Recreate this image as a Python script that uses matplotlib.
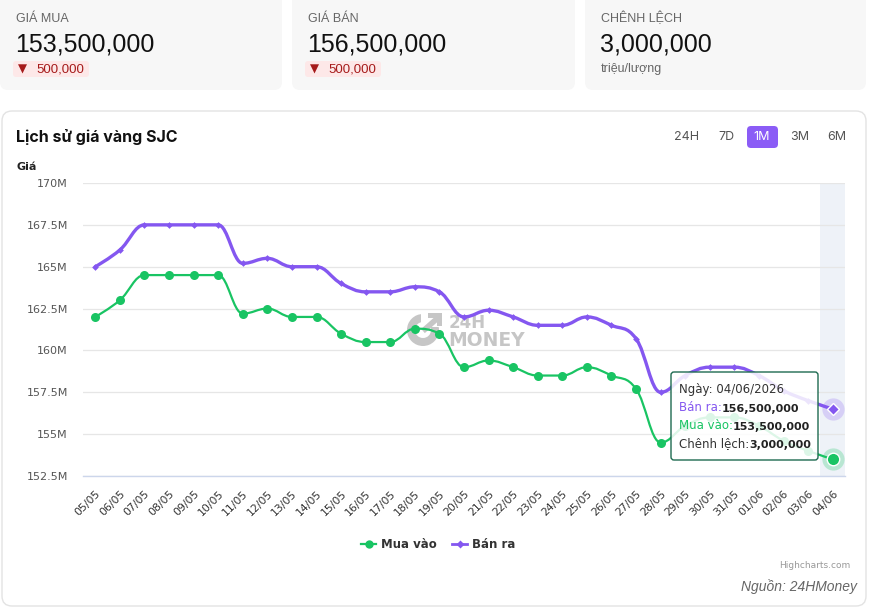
import matplotlib
matplotlib.use("Agg")
import matplotlib.pyplot as plt
from matplotlib.path import Path
from matplotlib.patches import PathPatch, FancyBboxPatch, Rectangle, Circle, Wedge
import numpy as np

# ---------------- data ----------------
dates = ['05/05', '06/05', '07/05', '08/05', '09/05', '10/05', '11/05', '12/05', '13/05',
         '14/05', '15/05', '16/05', '17/05', '18/05', '19/05', '20/05', '21/05', '22/05',
         '23/05', '24/05', '25/05', '26/05', '27/05', '28/05', '29/05', '30/05', '31/05',
         '01/06', '02/06', '03/06', '04/06']
ban_ra = [165.0, 166.0, 167.5, 167.5, 167.5, 167.5, 165.2, 165.5, 165.0, 165.0, 164.0,
          163.5, 163.5, 163.8, 163.5, 162.0, 162.4, 162.0, 161.5, 161.5, 162.0, 161.5,
          160.7, 157.5, 158.5, 159.0, 159.0, 158.5, 157.6, 157.0, 156.5]
mua_vao = [162.0, 163.0, 164.5, 164.5, 164.5, 164.5, 162.2, 162.5, 162.0, 162.0, 161.0,
           160.5, 160.5, 161.3, 161.0, 159.0, 159.4, 159.0, 158.5, 158.5, 159.0, 158.5,
           157.7, 154.5, 155.5, 156.0, 156.0, 155.5, 154.6, 154.0, 153.5]
y_ticks = [152.5, 155, 157.5, 160, 162.5, 165, 167.5, 170]
y_tick_labels = ['152.5M', '155M', '157.5M', '160M', '162.5M', '165M', '167.5M', '170M']
series_names = ['Mua vào', 'Bán ra']
range_buttons = ['24H', '7D', '1M', '3M', '6M']

PURPLE = '#8457f0'
GREEN = '#19c463'
W, H = 871, 611

fig = plt.figure(figsize=(W / 100, H / 100), dpi=100)
fig.patch.set_facecolor('white')

# background pixel axes
bg = fig.add_axes([0, 0, 1, 1], zorder=0)
bg.set_xlim(0, W); bg.set_ylim(H, 0); bg.axis('off')

def rbox(ax, x0, y0, x1, y1, r, fc, ec='none', lw=0, z=1):
    p = FancyBboxPatch((x0 + r, y0 + r), (x1 - x0) - 2 * r, (y1 - y0) - 2 * r,
                       boxstyle=f"round,pad={r}", fc=fc, ec=ec, lw=lw, zorder=z)
    ax.add_patch(p)
    return p

HF = 'Liberation Sans'
# cards
cards = [(0, 282, 'GIÁ MUA', '153,500,000', '500,000'),
         (292, 575, 'GIÁ BÁN', '156,500,000', '500,000'),
         (585, 866, 'CHÊNH LỆCH', '3,000,000', None)]
for x0, x1, lab, val, chg in cards:
    rbox(bg, x0, -10, x1, 90, 8, '#f7f7f7')
    bg.text(x0 + 16, 18.5, lab, fontsize=9, color='#666666', family=HF, va='center')
    bg.text(x0 + 15, 44.5, val, fontsize=18, color='#111111', family=HF, va='center')
    if chg:
        rbox(bg, x0 + 13, 61, x0 + 89, 77, 3, '#fde8e8')
        bg.text(x0 + 18, 69.5, '▼', fontsize=8.5, color='#a61b1b', family='DejaVu Sans', va='center')
        bg.text(x0 + 36, 69.5, chg, fontsize=9.5, color='#a61b1b', family=HF, va='center')
    else:
        bg.text(x0 + 16, 69, 'triệu/lượng', fontsize=9, color='#666666', family=HF, va='center')

# chart container
rbox(bg, 2, 111, 866, 606, 10, 'white', ec='#e3e3e3', lw=1)
bg.text(16, 137, 'Lịch sử giá vàng SJC', fontsize=11.5, fontweight='bold', color='#111111',
        family='Inter', va='center')
btn_x = [687, 726, 762, 800, 837]
for bx, bt in zip(btn_x, range_buttons):
    if bt == '1M':
        rbox(bg, 747, 126, 778, 148, 4, '#8b5cf6')
        bg.text(bx, 137, bt, fontsize=9, color='white', family='Inter', ha='center', va='center')
    else:
        bg.text(bx, 137, bt, fontsize=9, color='#555555', family='Inter', ha='center', va='center')
bg.text(16, 167, 'Giá', fontsize=8, fontweight='bold', color='#222222', family='DejaVu Sans', va='center')

# watermark logo
WM = '#c6c6c6'
bg.add_patch(Wedge((423, 330), 16, 0, 360, width=8, fc=WM, ec='none', zorder=2))
bg.add_patch(Rectangle((421, 313), 22, 14, fc='white', ec='none', zorder=2.1))
bg.plot([423, 440], [331, 316], color=WM, lw=4, zorder=2.2, solid_capstyle='butt')
bg.add_patch(Rectangle((428, 313), 14, 5, fc=WM, ec='none', zorder=2.2))
bg.add_patch(Rectangle((437, 313), 5, 13, fc=WM, ec='none', zorder=2.2))
bg.text(449, 323, '24H', fontsize=12, fontweight='bold', color=WM, family='DejaVu Sans',
        va='center', zorder=2)
bg.text(448, 341, 'MONEY', fontsize=13.5, fontweight='bold', color=WM, family='DejaVu Sans',
        va='center', zorder=2)

# credits
bg.text(815, 566, 'Highcharts.com', fontsize=6.5, color='#999999', family='DejaVu Sans',
        ha='center', va='center')
bg.text(857, 587, 'Nguồn: 24HMoney', fontsize=10, color='#666666', style='italic', family=HF,
        ha='right', va='center')

# ---------------- chart axes ----------------
L, R, T, B = 83, 845, 183, 476
ax = fig.add_axes([L / W, 1 - B / H, (R - L) / W, (B - T) / H], zorder=1)
ax.patch.set_alpha(0)
n = len(dates)
xs = np.arange(n)
ax.set_xlim(-0.5, n - 0.5)
ax.set_ylim(152.5, 170)
for s in ['top', 'right', 'left']:
    ax.spines[s].set_visible(False)
ax.spines['bottom'].set_color('#ccd6eb')
ax.spines['bottom'].set_linewidth(1)
ax.set_yticks(y_ticks)
ax.set_yticklabels(y_tick_labels, fontsize=8, color='#555555', family='DejaVu Sans')
ax.tick_params(axis='y', length=0, pad=11)
ax.set_xticks(xs)
ax.set_xticklabels(dates, rotation=45, ha='right', va='top', fontsize=7.8, color='#333333',
                   family='DejaVu Sans', rotation_mode='anchor')
ax.tick_params(axis='x', length=0, pad=9)
ax.grid(axis='y', color='#e6e6e6', lw=0.9, zorder=0)
ax.set_axisbelow(True)
ax.axvspan(n - 1.5, n - 0.5, color='#eef2f8', zorder=0.5, lw=0)

def spline_path(xv, yv, smoothing=1.5):
    denom = smoothing + 1
    N = len(xv)
    lc = [(xv[i], yv[i]) for i in range(N)]
    rc = [(xv[i], yv[i]) for i in range(N)]
    for i in range(1, N - 1):
        px, py = xv[i], yv[i]
        lx, ly = xv[i - 1], yv[i - 1]
        nx, ny = xv[i + 1], yv[i + 1]
        lcx = (smoothing * px + lx) / denom
        lcy = (smoothing * py + ly) / denom
        rcx = (smoothing * px + nx) / denom
        rcy = (smoothing * py + ny) / denom
        corr = 0
        if rcx != lcx:
            corr = ((rcy - lcy) * (rcx - px)) / (rcx - lcx) + py - rcy
        lcy += corr; rcy += corr
        if lcy > ly and lcy > py:
            lcy = max(ly, py); rcy = 2 * py - lcy
        elif lcy < ly and lcy < py:
            lcy = min(ly, py); rcy = 2 * py - lcy
        if rcy > ny and rcy > py:
            rcy = max(ny, py); lcy = 2 * py - rcy
        elif rcy < ny and rcy < py:
            rcy = min(ny, py); lcy = 2 * py - rcy
        lc[i] = (lcx, lcy); rc[i] = (rcx, rcy)
    verts = [(xv[0], yv[0])]
    codes = [Path.MOVETO]
    for i in range(1, N):
        verts += [rc[i - 1], lc[i], (xv[i], yv[i])]
        codes += [Path.CURVE4] * 3
    return Path(verts, codes)

ax.add_patch(PathPatch(spline_path(xs, mua_vao), fc='none', ec=GREEN, lw=1.6, zorder=3,
                       capstyle='round', joinstyle='round'))
ax.add_patch(PathPatch(spline_path(xs, ban_ra), fc='none', ec=PURPLE, lw=2.4, zorder=4,
                       capstyle='round', joinstyle='round'))
ax.plot(xs[:-1], mua_vao[:-1], 'o', color=GREEN, ms=6.5, mec='none', zorder=3.5)
ax.plot(xs[:-1], ban_ra[:-1], 'D', color=PURPLE, ms=3.4, mec='none', zorder=4.5)
# hover markers at last point
ax.plot(xs[-1], mua_vao[-1], 'o', color=GREEN, ms=16, alpha=0.25, mec='none', zorder=5)
ax.plot(xs[-1], mua_vao[-1], 'o', color=GREEN, ms=9, mec='white', mew=1, zorder=5.5)
ax.plot(xs[-1], ban_ra[-1], 'o', color=PURPLE, ms=16, alpha=0.22, mec='none', zorder=5)
ax.plot(xs[-1], ban_ra[-1], 'D', color=PURPLE, ms=6.5, mec='white', mew=1, zorder=5.5)

# legend (pixel overlay)
ov = fig.add_axes([0, 0, 1, 1], zorder=10)
ov.set_xlim(0, W); ov.set_ylim(H, 0); ov.axis('off'); ov.patch.set_alpha(0)
ov.plot([361, 376], [544, 544], color=GREEN, lw=1.6)
ov.plot([368.5], [544], 'o', color=GREEN, ms=6, mec='none')
ov.text(381, 544, series_names[0], fontsize=8.5, fontweight='bold', color='#333333',
        family='DejaVu Sans', va='center')
ov.plot([452, 467], [544, 544], color=PURPLE, lw=2)
ov.plot([459.5], [544], 'D', color=PURPLE, ms=3.6, mec='none')
ov.text(472, 544, series_names[1], fontsize=8.5, fontweight='bold', color='#333333',
        family='DejaVu Sans', va='center')

# tooltip
rbox(ov, 671, 372, 818, 460, 3, (1, 1, 1, 0.85), ec='#1e6b50', lw=1)
TF = dict(fontsize=8.5, family='DejaVu Sans', va='baseline')
ov.text(679, 393, 'Ngày: 04/06/2026', color='#333333', **TF)
def pair(y, label, lcolor, value):
    t = ov.text(679, y, label, color=lcolor, **TF)
    ov.annotate(value, xy=(1, 0), xycoords=t, xytext=(0, 0), textcoords='offset points',
                color='#222222', fontweight='bold', fontsize=8.0, family='DejaVu Sans',
                va='bottom', ha='left')
pair(411, 'Bán ra:', PURPLE, '156,500,000')
pair(429, 'Mua vào:', GREEN, '153,500,000')
pair(447, 'Chênh lệch:', '#333333', '3,000,000')

fig.savefig('out.png', dpi=100)
